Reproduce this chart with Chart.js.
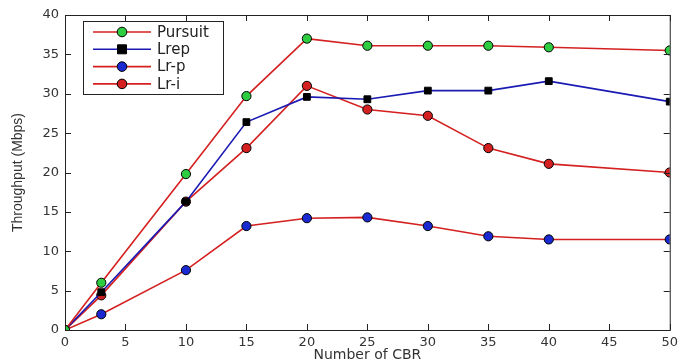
<!DOCTYPE html>
<html>
<head>
<meta charset="utf-8">
<script src="https://cdn.jsdelivr.net/npm/chart.js@4/dist/chart.umd.min.js"></script>
<style>
  body { margin: 0; background: #fff; }
  #wrap { width: 683px; height: 364px; }
</style>
</head>
<body>
<div id="wrap"><canvas id="chart" width="683" height="364"></canvas></div>
<script>
const cbr = [0, 3, 10, 15, 20, 25, 30, 35, 40, 50];
const pursuit = [0, 6.0, 19.8, 29.7, 37.0, 36.1, 36.1, 36.1, 35.9, 35.5];
const lrep = [0, 4.8, 16.3, 26.4, 29.6, 29.3, 30.4, 30.4, 31.6, 29.0];
const lrp = [0, 2.0, 7.6, 13.2, 14.2, 14.3, 13.2, 11.9, 11.5, 11.5];
const lri = [0, 4.4, 16.3, 23.1, 31.0, 28.0, 27.2, 23.1, 21.1, 20.0];
const xTicks = [0, 5, 10, 15, 20, 25, 30, 35, 40, 45, 50];
const yTicks = [0, 5, 10, 15, 20, 25, 30, 35, 40];

const tickFont = { size: 13, family: '"DejaVu Sans", sans-serif' };

function pts(vals) {
  return vals.map((v, i) => ({ x: cbr[i], y: v }));
}

function series(label, vals, line, fill, shape) {
  return {
    label: label,
    data: pts(vals),
    borderColor: line,
    backgroundColor: fill,
    pointBackgroundColor: fill,
    pointBorderColor: '#000',
    pointBorderWidth: 1,
    pointStyle: shape,
    pointRadius: shape === 'rect' ? 4.8 : 4.6,
    borderWidth: 1.6,
    tension: 0
  };
}

const frame = {
  id: 'frame',
  afterDraw(c) {
    const ctx = c.ctx, a = c.chartArea;
    const xs = c.scales.x, ys = c.scales.y;
    ctx.save();
    ctx.strokeStyle = '#222';
    ctx.lineWidth = 1;
    ctx.strokeRect(a.left + 0.5, a.top + 0.5, a.right - a.left, a.bottom - a.top);
    ctx.beginPath();
    xTicks.forEach(t => {
      const px = Math.round(xs.getPixelForValue(t)) + 0.5;
      ctx.moveTo(px, a.bottom); ctx.lineTo(px, a.bottom - 6);
      ctx.moveTo(px, a.top); ctx.lineTo(px, a.top + 6);
    });
    yTicks.forEach(t => {
      const py = Math.round(ys.getPixelForValue(t)) + 0.5;
      ctx.moveTo(a.left, py); ctx.lineTo(a.left + 6, py);
      ctx.moveTo(a.right, py); ctx.lineTo(a.right - 6, py);
    });
    ctx.stroke();

    // legend box inside the plot
    const bx = 83, by = 21, bw = 140, bh = 73;
    ctx.fillStyle = '#fff';
    ctx.fillRect(bx, by, bw, bh);
    ctx.strokeRect(bx + 0.5, by + 0.5, bw, bh);
    ctx.font = '15px "DejaVu Sans", sans-serif';
    ctx.textBaseline = 'middle';
    c.data.datasets.forEach((d, i) => {
      const y = 32 + i * 17.3;
      ctx.strokeStyle = d.borderColor;
      ctx.lineWidth = 1.6;
      ctx.beginPath();
      ctx.moveTo(93, y); ctx.lineTo(151, y);
      ctx.stroke();
      ctx.fillStyle = d.pointBackgroundColor;
      ctx.strokeStyle = '#000';
      ctx.lineWidth = 1;
      ctx.beginPath();
      if (d.pointStyle === 'rect') {
        ctx.rect(117.5, y - 4.5, 9, 9);
      } else {
        ctx.arc(122, y, 4.8, 0, Math.PI * 2);
      }
      ctx.fill(); ctx.stroke();
      ctx.fillStyle = '#222';
      ctx.fillText(d.label, 157, y + 1);
    });
    ctx.restore();
  }
};

new Chart(document.getElementById('chart'), {
  type: 'line',
  data: {
    datasets: [
      series('Pursuit', pursuit, '#d42020', '#2ecc40', 'circle'),
      series('Lrep', lrep, '#1a1ab4', '#000', 'rect'),
      series('Lr-p', lrp, '#d42020', '#1a2ad0', 'circle'),
      series('Lr-i', lri, '#d42020', '#d42020', 'circle')
    ]
  },
  options: {
    responsive: false,
    animation: false,
    layout: { padding: { top: 15, right: 6, left: 10, bottom: 0 } },
    plugins: { legend: { display: false }, tooltip: { enabled: false } },
    scales: {
      x: {
        type: 'linear',
        min: 0, max: 50,
        grid: { display: false, drawTicks: false },
        border: { display: false },
        afterFit(s) { s.height = 34; },
        ticks: { stepSize: 5, padding: 5, color: '#333', font: tickFont },
        title: { display: true, text: 'Number of CBR', color: '#333', padding: 0, font: { size: 14, family: '"DejaVu Sans", sans-serif' } }
      },
      y: {
        min: 0, max: 40,
        grid: { display: false, drawTicks: false },
        border: { display: false },
        afterFit(s) { s.width = 55; },
        ticks: { stepSize: 5, padding: 6, color: '#333', font: tickFont },
        title: { display: true, text: 'Throughput (Mbps)', color: '#333', padding: 0, font: { size: 14, family: '"Liberation Sans Narrow", "Liberation Sans", sans-serif' } }
      }
    }
  },
  plugins: [frame]
});
</script>
</body>
</html>
